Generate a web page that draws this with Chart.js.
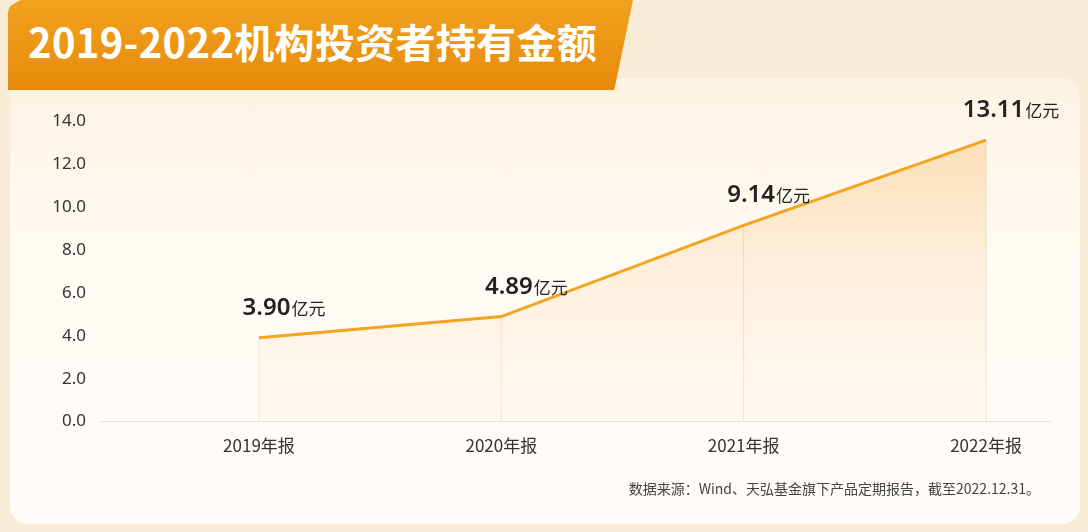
<!DOCTYPE html>
<html>
<head>
<meta charset="utf-8">
<script src="https://cdn.jsdelivr.net/npm/chart.js@4"></script>
<style>
  body { margin: 0; width: 1088px; height: 532px; background: #f9ecd6; font-family: "Noto Sans CJK SC", "Noto Sans", sans-serif; overflow: hidden; }
  .card { position: absolute; left: 10px; top: 78px; width: 1070px; height: 446px; border-radius: 18px; background: linear-gradient(180deg, #fdf3e4 0%, #fffaf3 40%, #fffcf8 100%); }
  .banner { position: absolute; left: 8px; top: 0; width: 625px; height: 90px; background: linear-gradient(180deg, #f0a21e 0%, #e88a0c 100%); clip-path: polygon(0 8%, 2% 0, 100% 0, 97% 100%, 0 100%); border-radius: 14px 0 0 0; }
  .banner span { position: absolute; left: 20px; top: 12px; color: #fff; font-size: 40px; font-weight: 700; letter-spacing: 0.3px; }
  canvas { position: absolute; left: 0; top: 0; }
  .src { position: absolute; right: 48px; top: 478px; font-size: 14px; color: #444; }
</style>
</head>
<body>
<div class="card"></div>
<div class="banner"><span>2019-2022机构投资者持有金额</span></div>
<canvas id="c" width="1088" height="532"></canvas>
<div class="src">数据来源：Wind、天弘基金旗下产品定期报告，截至2022.12.31。</div>
<script>
// ============================================
// DATA
// ============================================
const categories = ['2019年报', '2020年报', '2021年报', '2022年报'];
const amounts = [3.90, 4.89, 9.14, 13.11];
const yTicks = [0, 2, 4, 6, 8, 10, 12, 14];
const unit = '亿元';

// value labels + drop lines
const decorPlugin = {
    id: 'decor',
    beforeDatasetsDraw(chart) {
        const { ctx, scales: { x, y } } = chart;
        ctx.save();
        ctx.strokeStyle = 'rgba(230,210,185,0.7)';
        ctx.lineWidth = 1;
        amounts.forEach((v, i) => {
            const px = x.getPixelForValue(i);
            ctx.beginPath();
            ctx.moveTo(px, y.getPixelForValue(0));
            ctx.lineTo(px, y.getPixelForValue(v));
            ctx.stroke();
        });
        ctx.restore();
    },
    afterDatasetsDraw(chart) {
        const { ctx, scales: { x, y } } = chart;
        const numFont = '600 24px "Noto Sans", sans-serif';
        const unitFont = '17px "Noto Sans CJK SC", sans-serif';
        ctx.save();
        ctx.fillStyle = '#222';
        amounts.forEach((v, i) => {
            const px = x.getPixelForValue(i);
            const py = y.getPixelForValue(v);
            const num = v.toFixed(2);
            ctx.font = numFont;
            const w1 = ctx.measureText(num).width + 1;
            ctx.font = unitFont;
            const w2 = ctx.measureText(unit).width;
            const left = px + 25 - (w1 + w2) / 2;
            ctx.font = numFont;
            ctx.fillText(num, left, py - 23);
            ctx.font = unitFont;
            ctx.fillText(unit, left + w1, py - 23);
        });
        ctx.restore();
    }
};

new Chart(document.getElementById('c'), {
    type: 'line',
    data: {
        datasets: [{
            data: amounts.map((v, i) => ({ x: i, y: v })),
            borderColor: '#f2a51f',
            borderWidth: 3,
            pointRadius: 0,
            tension: 0,
            fill: 'origin',
            backgroundColor: (c) => {
                const area = c.chart.chartArea;
                if (!area) return 'rgba(250,200,130,0.3)';
                const g = c.chart.ctx.createLinearGradient(0, area.top, 0, area.bottom);
                g.addColorStop(0, 'rgba(250,190,110,0.45)');
                g.addColorStop(1, 'rgba(255,240,220,0.15)');
                return g;
            }
        }]
    },
    options: {
        responsive: false,
        animation: false,
        layout: { padding: { top: 121, bottom: 70, left: 0, right: 38 } },
        plugins: { legend: { display: false }, tooltip: { enabled: false } },
        scales: {
            x: {
                type: 'linear',
                min: -0.656,
                max: 3.264,
                afterBuildTicks: (s) => { s.ticks = categories.map((_, i) => ({ value: i })); },
                ticks: { callback: (v) => categories[v], color: '#333', font: { size: 17, family: '"Noto Sans CJK SC"' }, padding: 6 },
                grid: { display: false },
                border: { color: '#e6e0d8' }
            },
            y: {
                min: 0,
                max: 14,
                afterBuildTicks: (s) => { s.ticks = yTicks.map(v => ({ value: v })); },
                afterFit: (s) => { s.width = 100; },
                ticks: { callback: (v) => v.toFixed(1), color: '#333', font: { size: 17, family: '"Noto Sans"' }, padding: 6 },
                grid: { display: false },
                border: { display: false }
            }
        }
    },
    plugins: [decorPlugin]
});
</script>
</body>
</html>
